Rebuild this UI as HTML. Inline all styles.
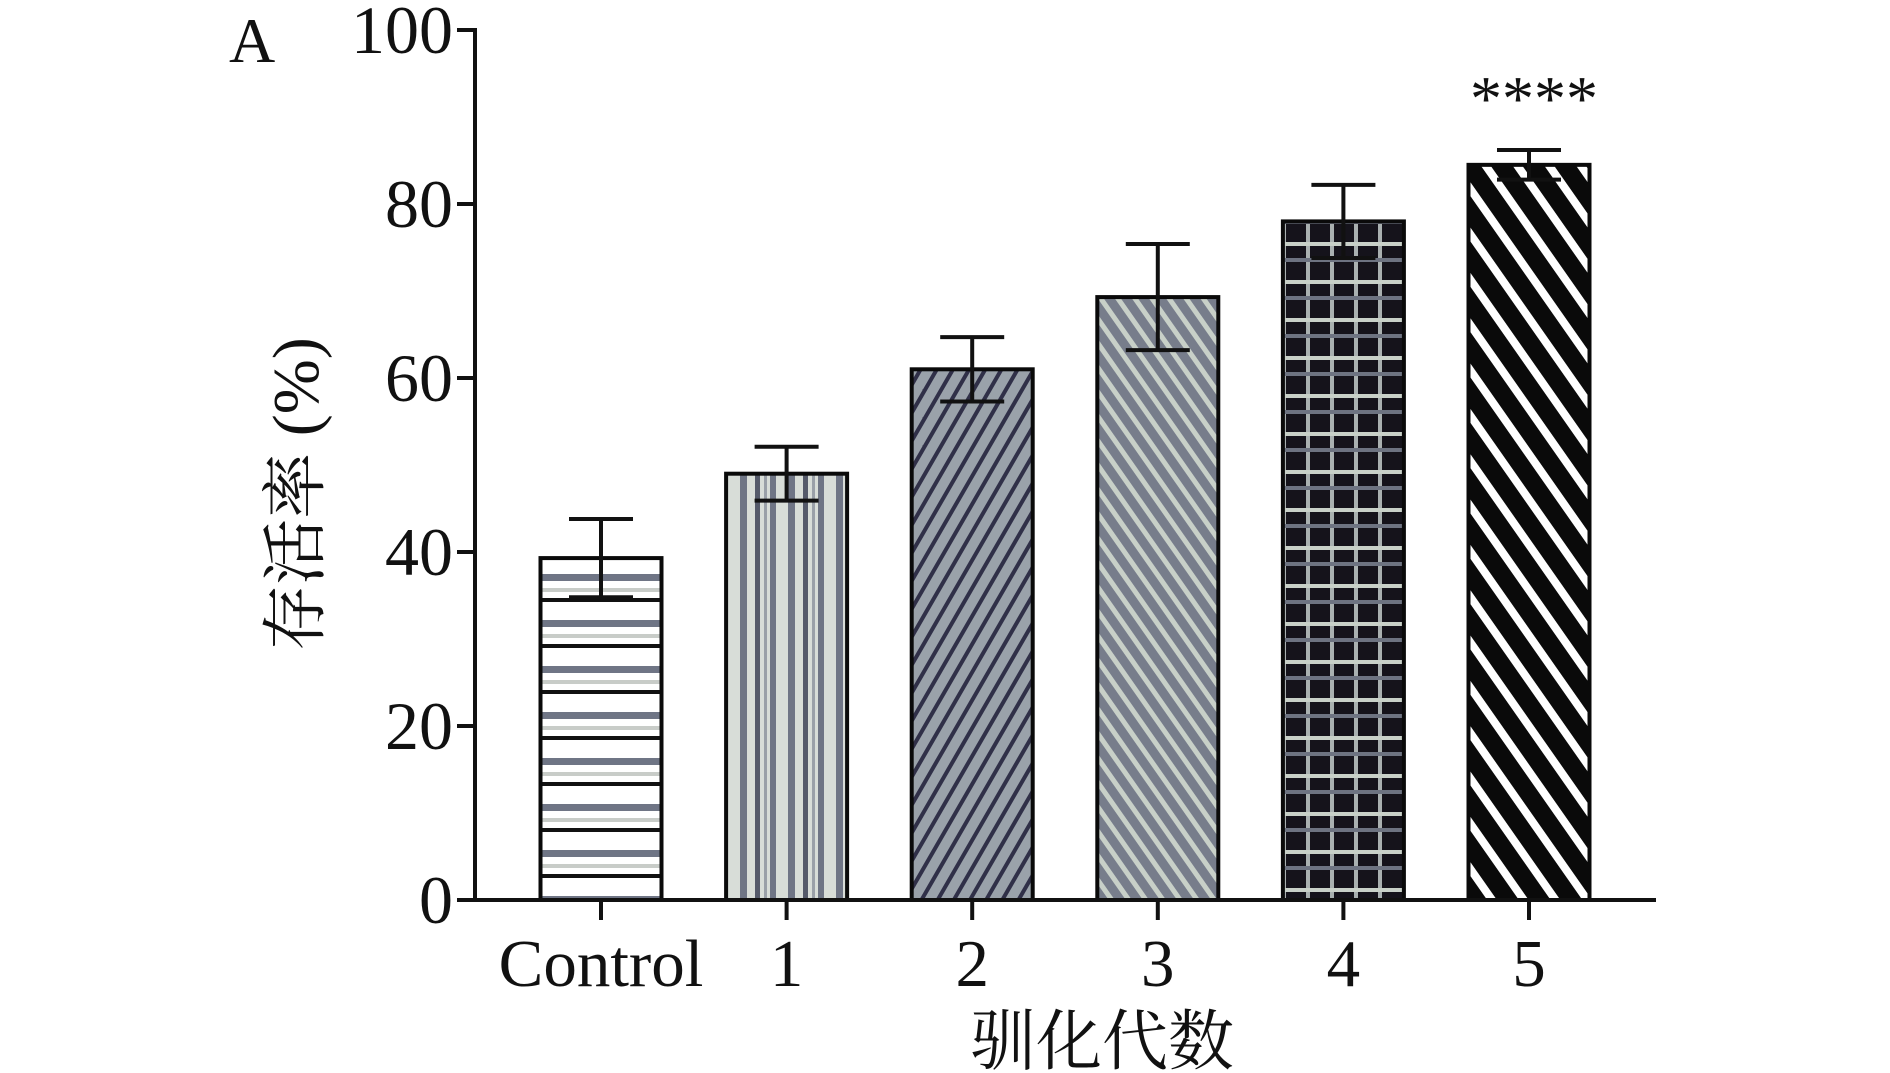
<!DOCTYPE html>
<html><head><meta charset="utf-8"><style>
html,body{margin:0;padding:0;background:#fff;width:1890px;height:1073px;overflow:hidden}
svg text{font-family:"Liberation Serif","Noto Serif CJK SC","Noto Sans CJK SC",serif;fill:#111}
</style></head><body>
<svg id="chart" width="1890" height="1073" viewBox="0 0 1890 1073" xmlns="http://www.w3.org/2000/svg">
<defs>
<pattern id="p0" patternUnits="userSpaceOnUse" width="20" height="46"><rect width="20" height="46" fill="#fff"/><rect y="0" width="20" height="4" fill="#111"/><rect y="22" width="20" height="7" fill="#6f7585"/><rect y="36" width="20" height="4" fill="#c8ccc8"/></pattern>
<pattern id="p1" patternUnits="userSpaceOnUse" width="48" height="20"><rect width="48" height="20" fill="#d8ddd8"/><rect x="2" width="6" height="20" fill="#6f7585"/><rect x="20" width="7" height="20" fill="#6f7585"/><rect x="35" width="5" height="20" fill="#555a6a"/><rect x="44" width="3" height="20" fill="#9aa0a8"/></pattern>
<pattern id="p2" patternUnits="userSpaceOnUse" width="14" height="14" patternTransform="rotate(30)"><rect width="14" height="14" fill="#9aa2aa"/><rect width="4" height="14" fill="#303048"/></pattern>
<pattern id="p3" patternUnits="userSpaceOnUse" width="14" height="14" patternTransform="rotate(-35)"><rect width="14" height="14" fill="#777d8b"/><rect width="5" height="14" fill="#c8d0c8"/></pattern>
<pattern id="p4" patternUnits="userSpaceOnUse" width="24" height="38"><rect width="24" height="38" fill="#15131b"/><rect x="10" width="4" height="38" fill="#a9b0b0"/><rect y="14" width="24" height="4" fill="#c8d0c8"/><rect y="30" width="24" height="4" fill="#6d7381"/></pattern>
<pattern id="p5" patternUnits="userSpaceOnUse" width="26" height="26" patternTransform="rotate(-35)"><rect width="26" height="26" fill="#0a0a0a"/><rect width="8" height="26" fill="#fff"/></pattern>
</defs>
<g id="bars"></g>
<g id="axes"></g>
<text x="229" y="62" font-size="64">A</text>
<text transform="translate(318,494) rotate(-90)" text-anchor="middle" font-size="66">存活率 (%)</text>
<text x="1102" y="1064" text-anchor="middle" font-size="66">驯化代数</text>
</svg>
<script>
const categories=["Control","1","2","3","4","5"];
const values=[39.3,49,61,69.3,78,84.5];
const errors=[4.5,3.1,3.7,6.1,4.2,1.7];
const yTicks=[0,20,40,60,80,100];
const sigLabels=["","","","","","****"];
const NS="http://www.w3.org/2000/svg";
const X0=475,X1=1656,Y0=900,Y100=30;
const y=v=>Y0-(v/100)*(Y0-Y100);
const x=i=>601+i*185.6;
const bw=121;
function mk(tag,attrs,parent){const e=document.createElementNS(NS,tag);for(const k in attrs)e.setAttribute(k,attrs[k]);parent.appendChild(e);return e;}
const bars=document.getElementById('bars'),axes=document.getElementById('axes');
categories.forEach((c,i)=>{
  const r=mk('rect',{x:x(i)-bw/2,y:y(values[i]),width:bw,height:Y0-y(values[i]),fill:'url(#p'+i+')',stroke:'#0a0a0a','stroke-width':4},bars);
  
  
  const g=mk('g',{stroke:'#111','stroke-width':4},bars);
  
  
  const hi=y(values[i]+errors[i]),lo=y(values[i]-errors[i]);
  mk('line',{x1:x(i),x2:x(i),y1:hi,y2:lo},g);
  mk('line',{x1:x(i)-32,x2:x(i)+32,y1:hi,y2:hi},g);
  mk('line',{x1:x(i)-32,x2:x(i)+32,y1:lo,y2:lo},g);
  mk('line',{x1:x(i),x2:x(i),y1:Y0,y2:Y0+20,stroke:'#111','stroke-width':4},axes);
  const t=mk('text',{x:x(i),y:986,'text-anchor':'middle','font-size':67},axes);
  t.textContent=c;
  
  
  if(sigLabels[i]){const s=mk('text',{x:x(i)+5,y:y(values[i]+errors[i])-30,'text-anchor':'middle','font-size':64},bars);
    s.textContent=sigLabels[i];
    
    }
});
const ya=mk('line',{x1:X0,x2:X0,y1:Y100-2,y2:Y0+2,stroke:'#111','stroke-width':4},axes);


const xa=mk('line',{x1:X0-2,x2:X1,y1:Y0,y2:Y0,stroke:'#111','stroke-width':4},axes);


yTicks.forEach(v=>{
  mk('line',{x1:X0-18,x2:X0,y1:y(v),y2:y(v),stroke:'#111','stroke-width':4},axes);
  const t=mk('text',{x:X0-22,y:y(v)+23,'text-anchor':'end','font-size':68},axes);
  t.textContent=v;
  
  
});
</script>
</body></html>
